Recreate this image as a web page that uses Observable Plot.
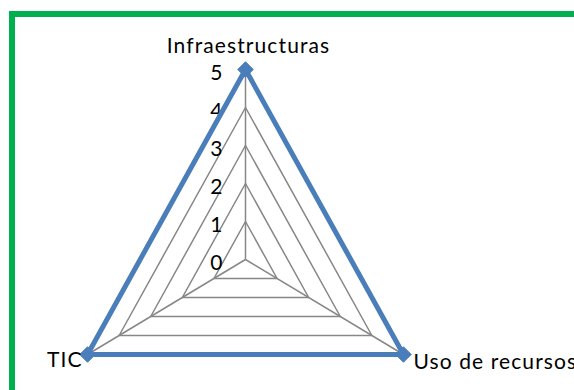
<!DOCTYPE html>
<html>
<head>
<meta charset="utf-8">
<script src="https://cdn.jsdelivr.net/npm/d3@7"></script>
<script src="https://cdn.jsdelivr.net/npm/@observablehq/plot@0.6"></script>
<style>
  html, body { margin: 0; padding: 0; background: #fff; }
  #wrap { position: relative; width: 574px; height: 390px; overflow: hidden; background: #fff; }
  #frame { position: absolute; left: 9px; top: 11px; width: 700px; height: 500px;
           border-left: 6px solid #00B050; border-top: 6px solid #00B050; box-sizing: border-box; }
  #chart { position: absolute; left: 0; top: 0; }
  #chart svg { overflow: visible; }
  #chart svg text { letter-spacing: 1.1px; }
</style>
</head>
<body>
<div id="wrap"><div id="frame"></div><div id="chart"></div></div>
<script>
const categories = ["Infraestructuras", "Uso de recursos", "TIC"];
const values = [5, 5, 5];
const ticks = [0, 1, 2, 3, 4, 5];

const n = categories.length;
const angle = i => (2 * Math.PI * i) / n;
const px = (r, i) => r * Math.sin(angle(i));
const py = (r, i) => r * Math.cos(angle(i));

const series = categories.map((c, i) => ({cat: c, x: px(values[i], i), y: py(values[i], i)}));
const maxR = d3.max(ticks);
const grid = ticks.filter(t => t > 0).flatMap(t => categories.map((c, i) => ({t, x: px(t, i), y: py(t, i)})));
const spokes = categories.map((c, i) => ({cat: c, x: px(maxR, i), y: py(maxR, i)}));
const tickLabels = ticks.map(t => ({t, x: 0, y: t}));

const font = "Lato, 'Open Sans', sans-serif";
const chart = Plot.plot({
  width: 574,
  height: 390,
  margin: 0,
  style: {fontFamily: font, background: "transparent"},
  x: {domain: [-5, 5], range: [62.6, 427.4], axis: null},
  y: {domain: [-5, 5], range: [449, 69], axis: null},
  marks: [
    Plot.line(grid, {x: "x", y: "y", z: "t", curve: "linear-closed", stroke: "#878787", strokeWidth: 1.5}),
    Plot.link(spokes, {x1: 0, y1: 0, x2: "x", y2: "y", stroke: "#878787", strokeWidth: 1.5}),
    Plot.text(tickLabels, {x: "x", y: "y", text: d => String(d.t), textAnchor: "end", dx: -22, dy: 4, fontSize: 21, fill: "#000"}),
    Plot.line(series, {x: "x", y: "y", curve: "linear-closed", stroke: "#4A7EBB", strokeWidth: 5}),
    Plot.dot(series, {x: "x", y: "y", symbol: "diamond2", r: 7, fill: "#4A7EBB", stroke: "#4A7EBB", strokeWidth: 1}),
    Plot.text(spokes.filter((d, i) => i === 0), {x: "x", y: "y", text: "cat", dy: -23, dx: 3, fontSize: 21, fill: "#000"}),
    Plot.text(spokes.filter((d, i) => i === 1), {x: "x", y: "y", text: "cat", textAnchor: "start", dx: 10, dy: 8, fontSize: 21, fill: "#000"}),
    Plot.text(spokes.filter((d, i) => i === 2), {x: "x", y: "y", text: "cat", textAnchor: "end", dx: -5, dy: 6, fontSize: 21, fill: "#000"})
  ]
});
document.getElementById("chart").appendChild(chart);
</script>
</body>
</html>
